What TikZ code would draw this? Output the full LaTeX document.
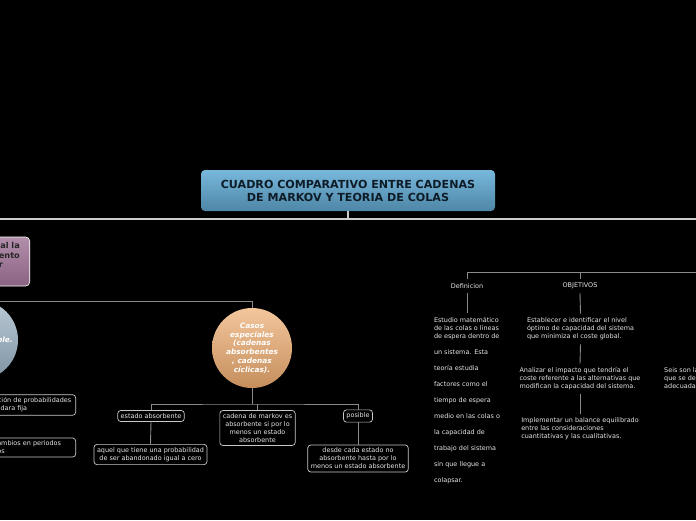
\documentclass[tikz,border=0pt]{standalone}
\usepackage{fontspec}
\setmainfont{DejaVu Sans}
\definecolor{connc}{HTML}{8A8A8A}
\definecolor{mainc}{HTML}{CCCCCC}
\definecolor{boxline}{HTML}{C8C8C8}
\definecolor{titletop}{HTML}{78B8DC}
\definecolor{titlebot}{HTML}{4E86A6}
\definecolor{titletext}{HTML}{0E1C28}
\definecolor{pinktop}{HTML}{B38FAB}
\definecolor{pinkbot}{HTML}{8A6282}
\definecolor{orangetop}{HTML}{F3C69C}
\definecolor{orangebot}{HTML}{C58E5C}
\definecolor{bluetop}{HTML}{BCCAD6}
\definecolor{bluebot}{HTML}{7C92A3}
\definecolor{txt}{HTML}{E8E8E8}
\tikzset{
  smallfont/.style={font=\fontsize{6.45}{8}\selectfont},
  box/.style={smallfont, draw=boxline, line width=0.7pt, rounded corners=3pt, fill=black,
    text=txt, align=center, inner xsep=3pt, inner ysep=3pt},
  plain/.style={smallfont, text=txt, align=left, inner sep=4pt},
  conn/.style={draw=connc, line width=0.9pt},
  mainconn/.style={draw=mainc, line width=1.3pt},
  bubble/.style={circle, minimum size=80pt, inner sep=0pt, text=white, align=center,
    font=\fontsize{7.4}{8.8}\selectfont\bfseries\itshape},
}
\begin{document}
\begin{tikzpicture}[x=1pt,y=-1pt]
\useasboundingbox (0,0) rectangle (696,520);
\fill[black] (0,0) rectangle (696,520);
\begin{scope}
\clip (0,0) rectangle (696,520);

% title
\node[rounded corners=4pt, top color=titletop, bottom color=titlebot, minimum width=294pt,
  minimum height=41pt, inner sep=0pt, align=center, text=titletext,
  font=\fontsize{11.1}{13}\selectfont\bfseries] (title) at (348,190.5)
  {CUADRO COMPARATIVO ENTRE CADENAS\\DE MARKOV Y TEORIA DE COLAS};
\coordinate (mainL) at (-10,219);
\coordinate (mainR) at (706,219);
\draw[mainconn] (mainL) -- (mainR);
\draw[mainconn] (title.south) -- (title.south |- mainL);

% left pink box
\node[rounded corners=4pt, top color=pinktop, bottom color=pinkbot, draw=white, line width=0.6pt,
  minimum width=170pt, minimum height=49pt, anchor=east] (pink) at (30,261.5) {};
\node[anchor=north east, inner sep=0pt, text=black!85, align=right,
  font=\fontsize{8.2}{9.6}\selectfont\bfseries] (pinktxt) at (20,242)
  {Proceso estocástico en el cual la\\ probabilidad de un evento\hspace*{1.5pt}\\ depende del anterior\hspace*{17pt}};

% left bubble
\node[bubble, top color=bluetop, bottom color=bluebot] (blue) at (-22,340) {};
\node[anchor=east, inner sep=0pt, text=white, font=\fontsize{7.4}{8.8}\selectfont\bfseries\itshape]
  (bluetxt) at (13,340) {predecible.};

% orange bubble
\node[bubble, top color=orangetop, bottom color=orangebot] (orange) at (252,348)
  {Casos\\especiales\\(cadenas\\absorbentes\\, cadenas\\cíclicas).};
\coordinate (leftend) at (-10,301);
\draw[conn] (leftend) -| (orange.north);

% left boxes
\node[box, align=left, text width=108pt, anchor=east] (lb1) at (76,405)
  {\mbox{Una transición de probabilidades}\\que se quedara fija};
\node[box, align=left, text width=110pt, anchor=east] (lb2) at (76,447.5)
  {\mbox{Sin sufrir cambios en periodos}\\consecutivos};

% children of orange
\node[box] (ea) at (151,416) {estado absorbente};
\node[box] (cm) at (257.5,428) {cadena de markov es\\absorbente si por lo\\menos un estado\\absorbente};
\node[box] (pos) at (358,416) {posible};
\node[box] (aq) at (150.5,454.5) {aquel que tiene una probabilidad\\de ser abandonado igual a cero};
\node[box] (desde) at (358,458.5) {desde cada estado no\\absorbente hasta por lo\\menos un estado absorbente};

\coordinate (bar) at (252,404);
\draw[conn] (orange.south) -- (bar);
\draw[conn] (ea.north) |- (bar) -| (pos.north);
\draw[conn] (cm.north) -- (cm.north |- bar);
\draw[conn] (ea.south) -- (aq.north);
\draw[conn] (pos.south) -- (desde.north);

% right side
\node[plain] (def) at (467,286) {Definicion};
\node[plain] (obj) at (580,286) {OBJETIVOS};
\coordinate (rbar) at (706,272);
\draw[conn] (def.north) |- (rbar);
\draw[conn] (obj.north) -- (obj.north |- rbar);

\node[plain, anchor=north] (defbody) at (467,313)
  {Estudio matemático\\de las colas o líneas\\de espera dentro de\\[8pt]
   un sistema. Esta\\[8pt]teoría estudia\\[8pt]factores como el\\[8pt]
   tiempo de espera\\[8pt]medio en las colas o\\[8pt]la capacidad de\\[8pt]
   trabajo del sistema\\[8pt]sin que llegue a\\[8pt]colapsar.};
\draw[conn] (def.south) -- (defbody.north);

\node[plain] (o1) at (580.5,329) {Establecer e identificar el nivel\\óptimo de capacidad del sistema\\que minimiza el coste global.};
\node[plain] (o2) at (580,379) {Analizar el impacto que tendría el\\coste referente a las alternativas que\\modifican la capacidad del sistema.};
\node[plain] (o3) at (580,429) {Implementar un balance equilibrado\\entre las consideraciones\\cuantitativas y las cualitativas.};
\draw[conn] (obj.south) -- (o1.north);
\draw[conn] (o1.south) -- (o2.north);
\draw[conn] (o2.south) -- (o3.north);

\node[plain, anchor=west, inner sep=0pt] (seis) at (664,378)
  {Seis son las\\que se deben\\adecuadamente};

\end{scope}
\end{tikzpicture}
\end{document}
